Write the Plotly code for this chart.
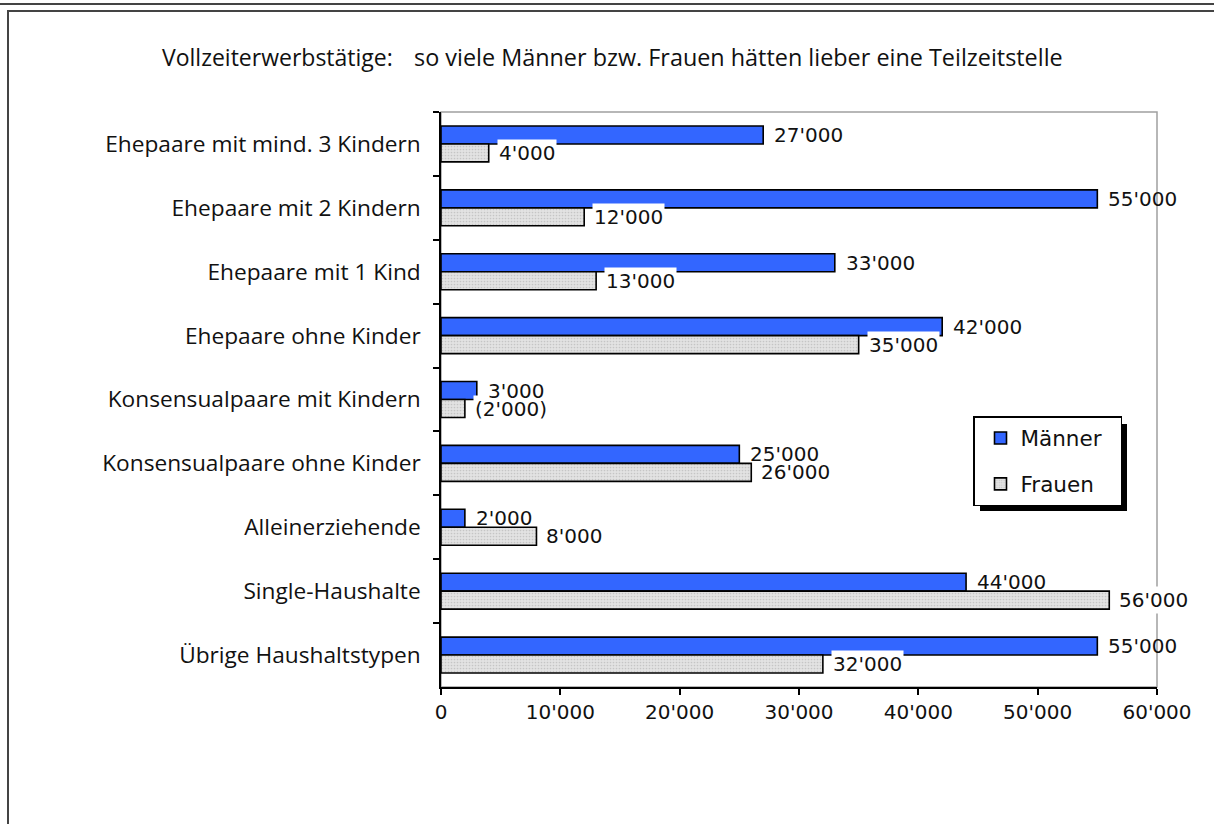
import plotly.graph_objects as go

categories = [
    "Ehepaare mit mind. 3 Kindern",
    "Ehepaare mit 2 Kindern",
    "Ehepaare mit 1 Kind",
    "Ehepaare ohne Kinder",
    "Konsensualpaare mit Kindern",
    "Konsensualpaare ohne Kinder",
    "Alleinerziehende",
    "Single-Haushalte",
    "Übrige Haushaltstypen",
]
maenner = [27000, 55000, 33000, 42000, 3000, 25000, 2000, 44000, 55000]
frauen = [4000, 12000, 13000, 35000, 2000, 26000, 8000, 56000, 32000]
# values flagged as statistically uncertain (shown in parentheses)
frauen_uncertain = [False, False, False, False, True, False, False, False, False]

W, H = 1214, 824
L, R, T, B = 441, 1157, 112, 687


def px(x):
    return (x - L) / (R - L)


def py(y):
    return (B - y) / (B - T)


def fmt(v, paren=False):
    s = f"{v:,}".replace(",", "'")
    return f"({s})" if paren else s


NUM_FONT = "DejaVu Sans"
TXT_FONT = "Open Sans"
PAD = "\u00a0\u00a0"  # trailing padding inside the legend box

fig = go.Figure()
fig.add_trace(go.Bar(
    y=categories, x=maenner, orientation="h", name="Männer" + PAD,
    legendgroup="m",
    marker=dict(color="#3366ff", line=dict(color="black", width=1.6)),
))
fig.add_trace(go.Bar(
    y=categories, x=frauen, orientation="h", name="Frauen",
    legendgroup="f",
    marker=dict(color="#dedede", line=dict(color="black", width=1.6),
                pattern=dict(shape=".", fgcolor="#a8a8a8", bgcolor="#e2e2e2",
                             size=3, solidity=0.25, fillmode="overlay")),
))

annotations = []
for c, v, u in zip(categories, frauen, frauen_uncertain):
    annotations.append(dict(
        x=v, y=c, xref="x", yref="y", text=fmt(v, u), showarrow=False,
        xanchor="left", yanchor="middle", xshift=8, yshift=-9,
        bgcolor="white", borderpad=1,
        font=dict(family=NUM_FONT, size=20, color="#111"),
    ))
for c, v in zip(categories, maenner):
    annotations.append(dict(
        x=v, y=c, xref="x", yref="y", text=fmt(v), showarrow=False,
        xanchor="left", yanchor="middle", xshift=9, yshift=9,
        font=dict(family=NUM_FONT, size=20, color="#111"),
    ))

# title (two parts)
annotations.append(dict(
    x=px(160), y=py(57), xref="paper", yref="paper", text="Vollzeiterwerbstätige:",
    showarrow=False, xanchor="left", yanchor="middle",
    font=dict(family=TXT_FONT, size=23, color="#111"),
))
annotations.append(dict(
    x=px(412), y=py(57), xref="paper", yref="paper",
    text="so viele Männer bzw. Frauen hätten lieber eine Teilzeitstelle",
    showarrow=False, xanchor="left", yanchor="middle",
    font=dict(family=TXT_FONT, size=23.4, color="#111"),
))

shapes = [
    # outer frame
    dict(type="line", xref="paper", yref="paper", x0=px(0), x1=px(1214), y0=py(4), y1=py(4),
         line=dict(color="#444", width=2)),
    dict(type="rect", xref="paper", yref="paper", x0=px(8), x1=px(1230), y0=py(11), y1=py(840),
         line=dict(color="#444", width=2)),
    # plot area frame (gray)
    dict(type="rect", xref="paper", yref="paper", x0=0, x1=1, y0=0, y1=1,
         line=dict(color="#a0a0a0", width=1.5), layer="below"),
    # legend shadow
    dict(type="rect", xref="paper", yref="paper", x0=px(980), x1=px(1127), y0=py(424), y1=py(511),
         fillcolor="black", line=dict(width=0)),
]

fig.update_layout(
    width=W, height=H,
    margin=dict(l=L, r=W - R, t=T, b=H - B),
    paper_bgcolor="white", plot_bgcolor="white",
    barmode="group", bargap=0.4375, bargroupgap=0,
    separators=".'",
    showlegend=True,
    legend=dict(
        x=px(973), y=py(416), xanchor="left", yanchor="top",
        bgcolor="white", bordercolor="black", borderwidth=1.5,
        font=dict(family=NUM_FONT, size=21.5, color="#111"),
        tracegroupgap=15, indentation=6, traceorder="grouped",
    ),
    annotations=annotations,
    shapes=shapes,
    font=dict(family=TXT_FONT, color="#111"),
)
fig.update_xaxes(
    range=[0, 60000], dtick=10000, tick0=0, tickformat=",d",
    showgrid=False, zeroline=False,
    showline=True, linecolor="black", linewidth=1.5,
    ticks="outside", ticklen=6, tickcolor="black", tickwidth=1.5,
    tickfont=dict(family=NUM_FONT, size=20, color="#111"),
)
fig.update_yaxes(
    autorange="reversed", showgrid=False, zeroline=False,
    showline=True, linecolor="black", linewidth=1.5,
    ticks="outside", ticklen=6, tickcolor="black", tickwidth=1.5,
    tickson="boundaries", ticklabelstandoff=14,
    tickfont=dict(family=TXT_FONT, size=22.7, color="#111"),
)

fig.write_html("out.html", config={"displayModeBar": False},
               post_script="document.body.style.margin='0';")
